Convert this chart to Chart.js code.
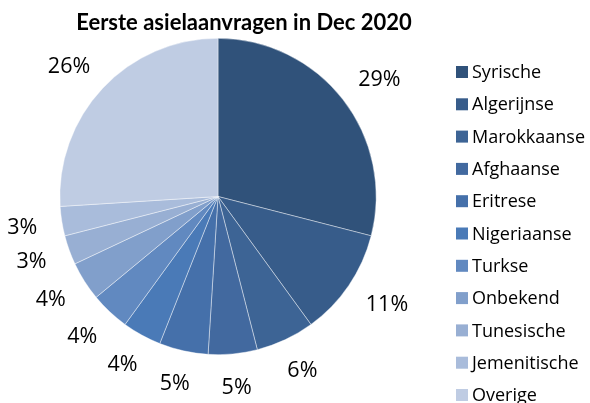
<!DOCTYPE html>
<html>
<head>
<meta charset="utf-8">
<script src="https://cdn.jsdelivr.net/npm/chart.js@4/dist/chart.umd.min.js"></script>
<style>
html,body{margin:0;padding:0;background:#fff;}
#wrap{width:590px;height:403px;position:relative;}
</style>
</head>
<body>
<div id="wrap"><canvas id="c" width="590" height="403"></canvas></div>
<script>
const title = "Eerste asielaanvragen in Dec 2020";
const categories = ["Syrische","Algerijnse","Marokkaanse","Afghaanse","Eritrese","Nigeriaanse","Turkse","Onbekend","Tunesische","Jemenitische","Overige"];
const shares = [29, 11, 6, 5, 5, 4, 4, 4, 3, 3, 26];
const colors = ["#30527A","#375C8A","#3D6495","#42699F","#4570AA","#4A7AB7","#6189C0","#819FCB","#98AFD3","#A9BCDB","#BFCCE3"];

const FONT = "Lato, 'Open Sans', sans-serif";
const FONT2 = "'Open Sans', Lato, sans-serif";

const extras = {
  id: 'extras',
  afterDraw(chart) {
    const ctx = chart.ctx;
    ctx.save();
    // title
    ctx.fillStyle = '#000';
    ctx.font = "bold 22px " + FONT;
    ctx.textAlign = 'center';
    ctx.textBaseline = 'alphabetic';
    ctx.fillText(title, 244, 30);

    // percentage labels
    const meta = chart.getDatasetMeta(0);
    ctx.font = "21.5px " + FONT2;
    ctx.textBaseline = 'middle';
    ctx.textAlign = 'center';
    const gap = 25, h = 16;
    meta.data.forEach((arc, i) => {
      const p = arc.getProps(['x','y','startAngle','endAngle','outerRadius'], true);
      const mid = (p.startAngle + p.endAngle) / 2;
      const c = Math.cos(mid), s = Math.sin(mid);
      const txt = shares[i] + '%';
      const w = ctx.measureText(txt).width;
      const R = p.outerRadius + gap;
      const x = p.x + c * R + c * w / 2;
      const y = p.y + s * R + s * h / 2;
      ctx.fillText(txt, x, y + 1);
    });

    // legend
    ctx.font = "18px " + FONT2;
    ctx.textAlign = 'left';
    ctx.textBaseline = 'middle';
    const lx = 456, ly0 = 72, step = 32.3;
    categories.forEach((name, i) => {
      const y = ly0 + i * step;
      ctx.fillStyle = colors[i];
      ctx.fillRect(lx, y - 6, 12, 12);
      ctx.fillStyle = '#000';
      ctx.fillText(name, lx + 16, y + 1);
    });
    ctx.restore();
  }
};

new Chart(document.getElementById('c'), {
  type: 'pie',
  data: {
    labels: categories,
    datasets: [{
      data: shares,
      backgroundColor: colors,
      borderColor: 'rgba(255,255,255,0.6)',
      borderWidth: 0.7
    }]
  },
  options: {
    responsive: false,
    animation: false,
    layout: { padding: { left: 59, right: 213, top: 38, bottom: 48 } },
    plugins: {
      legend: { display: false },
      title: { display: false },
      tooltip: { enabled: false }
    }
  },
  plugins: [extras]
});
</script>
</body>
</html>
